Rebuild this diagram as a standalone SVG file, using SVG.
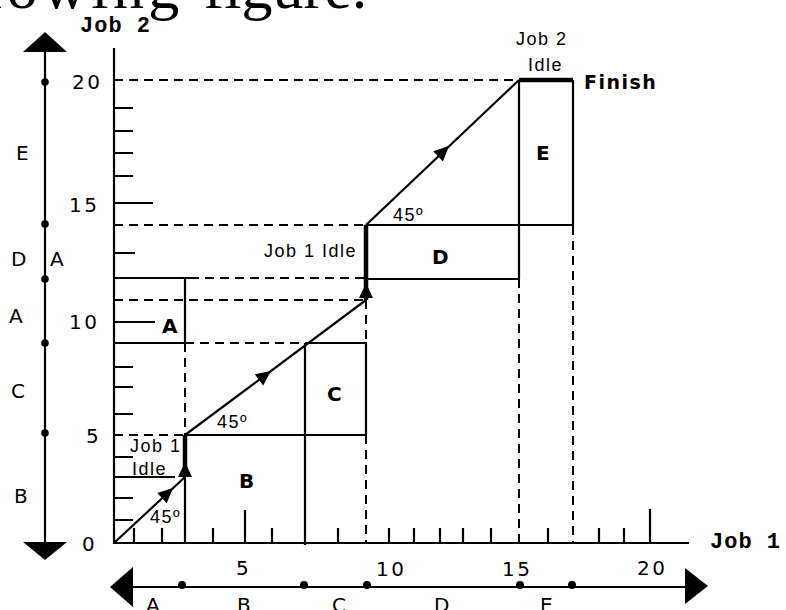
<svg xmlns="http://www.w3.org/2000/svg" xmlns:xlink="http://www.w3.org/1999/xlink" width="786" height="610" viewBox="0 0 786 610">
<style>
.ln{stroke:#000;stroke-width:2.2;fill:none}
.th{stroke:#000;stroke-width:4.5;fill:none}
.ds{stroke:#000;stroke-width:2;fill:none;stroke-dasharray:9 6}
.num{font-family:"DejaVu Sans",Verdana,sans-serif;font-size:20px;letter-spacing:2.5px;fill:#000}
.let{font-family:"DejaVu Sans",Verdana,sans-serif;font-size:20px;fill:#000}
.box{font-family:"DejaVu Sans",Verdana,sans-serif;font-size:20px;font-weight:bold;fill:#000}
.sm{font-family:"Liberation Sans",Arial,sans-serif;font-size:18px;letter-spacing:1.5px;fill:#000}
.ax{font-family:"Liberation Mono","Courier New",monospace;font-size:22px;font-weight:bold;letter-spacing:1px;fill:#000}
.tt{font-family:"Liberation Serif","Times New Roman",serif;font-size:62px;fill:#000}
</style>
<defs>
<path id="ah" d="M0,0 L-15,-7 L-15,7 Z" fill="#000"/>
</defs>
<rect width="786" height="610" fill="#fff"/>
<text class="tt" x="-97" y="8"><tspan letter-spacing="4.4">following </tspan><tspan>figure.</tspan></text>

<g id="axes">
<line class="ln" x1="114" y1="48" x2="114" y2="544"/>
<line class="ln" x1="113" y1="543" x2="689" y2="543"/>
<text class="ax" x="80" y="32">Job 2</text>
<text class="ax" x="710" y="548">Job 1</text>
<path class="ln" d="M114,520H133M114,498H133M114,457H133M114,414H133M114,387H133M114,367H133M114,253H135M114,176H133M114,153H133M114,131H133M114,108H133M114,477H175M114,322H155M114,203H153"/>
<path class="ln" d="M134,528V543M162,528V543M213,528V543M272,528V543M338,528V543M389,528V543M414,528V543M440,528V543M463,528V543M491,528V543M548,528V543M599,528V543M624,528V543M245,510V543M650,509V543"/>
<text class="num" x="72" y="89">20</text>
<text class="num" x="69" y="212">15</text>
<text class="num" x="69" y="329">10</text>
<text class="num" x="86" y="443">5</text>
<text class="num" x="82" y="551">0</text>
<text class="num" x="236" y="575">5</text>
<text class="num" x="376" y="576">10</text>
<text class="num" x="502" y="576">15</text>
<text class="num" x="637" y="575">20</text>
</g>

<g id="job2-sequence">
<line class="ln" x1="45" y1="50" x2="45" y2="544" stroke-width="2.5"/>
<polygon points="45,32 23,52 67,52" fill="#000"/>
<polygon points="23,542 67,542 45,560" fill="#000"/>
<g fill="#000"><circle cx="45" cy="82" r="3.8"/><circle cx="45" cy="224" r="3.8"/><circle cx="45" cy="279" r="3.8"/><circle cx="45" cy="343" r="3.8"/><circle cx="45" cy="433" r="3.8"/></g>
<text class="let" x="16" y="160">E</text>
<text class="let" x="11" y="266">D</text>
<text class="let" x="50" y="266">A</text>
<text class="let" x="9" y="323">A</text>
<text class="let" x="11" y="398">C</text>
<text class="let" x="14" y="503">B</text>
</g>

<g id="job1-sequence">
<line class="ln" x1="130" y1="587" x2="688" y2="587" stroke-width="2.5"/>
<polygon points="110,587 133,567 133,607" fill="#000"/>
<polygon points="708,586 685,568 685,604" fill="#000"/>
<g fill="#000"><circle cx="182" cy="585" r="4"/><circle cx="304" cy="585" r="4"/><circle cx="367" cy="585" r="4"/><circle cx="520" cy="585" r="4"/><circle cx="572" cy="585" r="4"/></g>
<text class="let" x="146" y="612">A</text>
<text class="let" x="237" y="612">B</text>
<text class="let" x="332" y="612">C</text>
<text class="let" x="434" y="612">D</text>
<text class="let" x="540" y="612">E</text>
</g>

<g id="guides">
<path class="ds" d="M114,80H519M114,225H366M190,278H366M114,300H366M185,343H305M114,435H185"/>
<path class="ds" d="M185,343V435M366,300V343M366,435V543M519,279V543M573,226V543"/>
</g>

<g id="box-A">
<path class="ln" d="M114,278H190M114,343H185M185,278V343"/>
<text class="box" x="162" y="333">A</text>
</g>
<g id="box-B">
<path class="ln" d="M185,435H366M185,477V543"/>
<text class="box" x="239" y="488">B</text>
</g>
<g id="box-C">
<path class="ln" d="M305,343H366V435M305,343V545"/>
<text class="box" x="327" y="401">C</text>
</g>
<g id="box-D">
<path class="ln" d="M366,225H573M366,279H519"/>
<text class="box" x="432" y="264">D</text>
</g>
<g id="box-E">
<path class="ln" d="M519,80V279M573,80V226"/>
<text class="box" x="536" y="160">E</text>
</g>

<g id="connectors">
<path class="ln" d="M114,543L185,477"/>
<path class="th" d="M185,477V435"/>
<path class="ln" d="M185,435L366,300"/>
<path class="th" d="M366,300V225"/>
<path class="ln" d="M366,225L519,80"/>
<path class="th" d="M519,80H573"/>
<use xlink:href="#ah" transform="translate(173,488) rotate(-42.9)"/>
<use xlink:href="#ah" transform="translate(271,371) rotate(-36.7)"/>
<use xlink:href="#ah" transform="translate(449,146) rotate(-43.5)"/>
<use xlink:href="#ah" transform="translate(185,462) rotate(-90)"/>
<use xlink:href="#ah" transform="translate(366,283) rotate(-90)"/>
</g>

<g id="labels">
<text class="sm" x="130" y="452">Job 1</text>
<text class="sm" x="132" y="475">Idle</text>
<text class="sm" x="264" y="257">Job 1 Idle</text>
<text class="sm" x="516" y="45">Job 2</text>
<text class="sm" x="528" y="71">Idle</text>
<text class="sm" x="150" y="523">45º</text>
<text class="sm" x="217" y="428">45º</text>
<text class="sm" x="393" y="221">45º</text>
<text x="584" y="89" font-family="DejaVu Sans,Verdana,sans-serif" font-size="19" font-weight="bold" letter-spacing="1.5">Finish</text>
</g>
</svg>
